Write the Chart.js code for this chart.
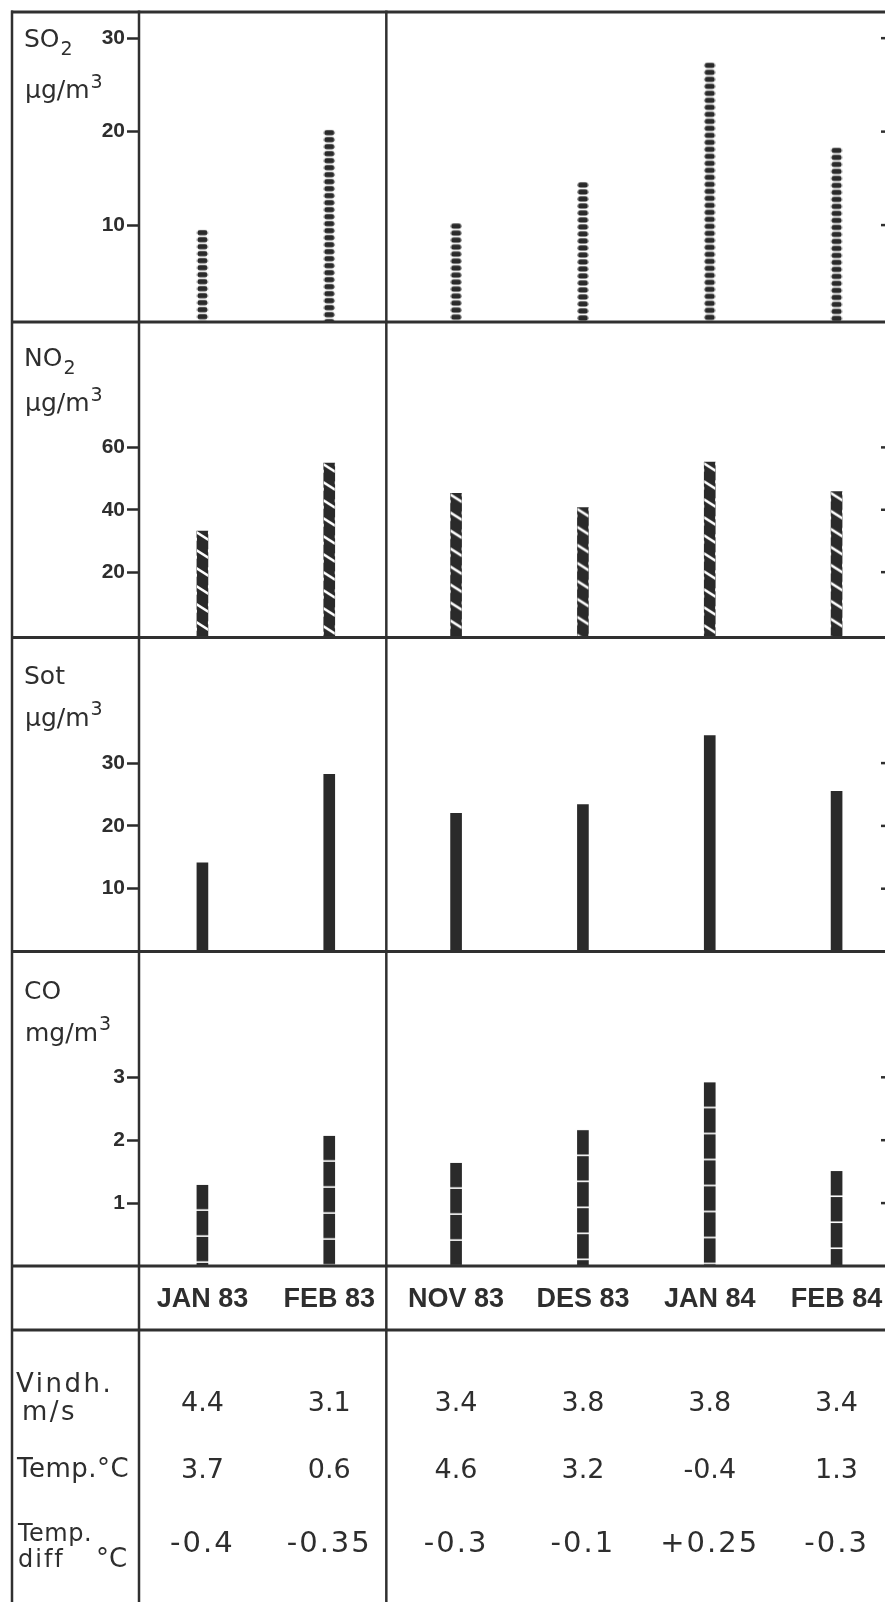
<!DOCTYPE html>
<html>
<head>
<meta charset="utf-8">
<script src="https://cdn.jsdelivr.net/npm/chart.js@4.4.1/dist/chart.umd.min.js"></script>
<style>
html,body{margin:0;padding:0;background:#fff;overflow:hidden;width:885px;height:1602px}
#wrap{position:absolute;left:0;top:0;width:900px;height:1602px}
canvas{display:block}
</style>
</head>
<body>
<div id="wrap"><canvas id="c" width="900" height="1602"></canvas></div>
<script>
// ---------------- data ----------------
const months = ['JAN 83', 'FEB 83', 'NOV 83', 'DES 83', 'JAN 84', 'FEB 84'];
const so2 = [9.5, 20.2, 10.2, 14.6, 27.4, 18.3];     // µg/m3
const no2 = [33.2, 55.0, 45.3, 40.7, 55.3, 45.8];    // µg/m3
const sot = [14.1, 28.2, 22.0, 23.4, 34.4, 25.5];    // µg/m3
const co  = [1.29, 2.07, 1.64, 2.16, 2.92, 1.51];    // mg/m3
const so2Ticks = [10, 20, 30];
const no2Ticks = [20, 40, 60];
const sotTicks = [10, 20, 30];
const coTicks  = [1, 2, 3];
const windSpeed   = [4.4, 3.1, 3.4, 3.8, 3.8, 3.4];
const temperature = [3.7, 0.6, 4.6, 3.2, -0.4, 1.3];
const tempDiff    = [-0.4, -0.35, -0.3, -0.1, 0.25, -0.3];

// ---------------- style ----------------
const INK = '#2a2a2a';
const TXT = '#2e2e2e';
const SANS = '"DejaVu Sans", "Liberation Sans", sans-serif';
const ARIAL = '"Liberation Sans", Arial, sans-serif';
const BAR_W = 11;

function makeTile(w, h, draw) {
  const c = document.createElement('canvas');
  c.width = w; c.height = h;
  draw(c.getContext('2d'), w, h);
  return c;
}
function rr(g, x, y, w, h, r) {
  g.beginPath();
  g.moveTo(x + r, y); g.lineTo(x + w - r, y); g.quadraticCurveTo(x + w, y, x + w, y + r);
  g.lineTo(x + w, y + h - r); g.quadraticCurveTo(x + w, y + h, x + w - r, y + h);
  g.lineTo(x + r, y + h); g.quadraticCurveTo(x, y + h, x, y + h - r);
  g.lineTo(x, y + r); g.quadraticCurveTo(x, y, x + r, y); g.closePath();
}
// dotted (SO2)
const tileSO2 = makeTile(BAR_W, 7.5, (g, w, h) => { g.fillStyle = INK; rr(g, 0.5, 0.3, w - 1, 5.2, 2.3); g.fill(); });
// hatched (NO2)
const tileNO2 = makeTile(BAR_W, 18, (g, w, h) => {
  g.fillStyle = INK; g.fillRect(0, 0, w, h);
  g.fillStyle = '#fff';
  for (const o of [-h, 0, h]) {
    g.beginPath(); g.moveTo(0, o + 0); g.lineTo(w, o + 7); g.lineTo(w, o + 10); g.lineTo(0, o + 3); g.closePath(); g.fill();
  }
});
// solid (Sot)
const tileSot = makeTile(BAR_W, 4, (g, w, h) => { g.fillStyle = INK; g.fillRect(0, 0, w, h); });
// segmented (CO)
const tileCO = makeTile(BAR_W, 26, (g, w, h) => { g.fillStyle = INK; g.fillRect(0, 0, w, h - 1.6); });

function patternFill(tile) {
  return (c) => {
    if (c.type !== 'data') return INK;
    const chart = c.chart, xs = chart.scales.x, ys = chart.scales[c.dataset.yAxisID];
    if (!xs || !ys || !c.parsed) return INK;
    const p = chart.ctx.createPattern(tile, 'repeat');
    const x = xs.getPixelForValue(c.dataIndex) - BAR_W / 2;
    const y = ys.getPixelForValue(c.parsed.y);
    p.setTransform(new DOMMatrix().translate(x, y));
    return p;
  };
}

function yAxis(min, max, ticks, order, stackWeight) {
  return {
    type: 'linear', position: 'left', stack: 'panels', stackWeight: stackWeight, weight: order,
    min: min, max: max,
    afterBuildTicks: (s) => { s.ticks = ticks.map(v => ({ value: v })); },
    afterFit: (s) => { s.width = 127; s.paddingTop = 0; s.paddingBottom = 0; },
    grid: { drawOnChartArea: false, drawTicks: true, tickLength: 12, tickWidth: 2.5, tickColor: INK },
    border: { display: false },
    ticks: { color: TXT, padding: 2, font: { family: ARIAL, size: 21, weight: 'bold', lineHeight: 1 } }
  };
}

const MIN = { so2: -0.37, no2: -0.95, sot: 0, co: 0 };

// ---------------- frame, labels, table ----------------
const panelLabels = [
  { id: 'ySO2', l1: ['SO', '2'], l2: ['µg/m', '3'], y1: 35, y2: 86 },
  { id: 'yNO2', l1: ['NO', '2'], l2: ['µg/m', '3'], y1: 44, y2: 89 },
  { id: 'ySot', l1: ['Sot', ''], l2: ['µg/m', '3'], y1: 46, y2: 88 },
  { id: 'yCO',  l1: ['CO', ''],  l2: ['mg/m', '3'], y1: 47, y2: 89 }
];

function fmt(v) { return v.toFixed(Math.abs(v * 10 - Math.round(v * 10)) > 1e-9 ? 2 : 1); }
function fmtSigned(v) { return (v > 0 ? '+' : '') + fmt(v); }

const sheet = {
  id: 'sheet',
  afterDatasetsDraw(chart) {
    const ctx = chart.ctx, xs = chart.scales.x, ca = chart.chartArea;
    const ids = ['ySO2', 'yNO2', 'ySot', 'yCO'];
    const P = ids.map(id => chart.scales[id]);
    const L = 12, R = chart.width, B = chart.height;
    const monthBottom = xs.top + 64;
    const divX = xs.getPixelForValue(1.45);
    ctx.save();
    ctx.strokeStyle = '#303030';
    ctx.lineCap = 'butt';
    // horizontal rules
    ctx.lineWidth = 3;
    const hs = [P[0].top, P[0].bottom, P[1].bottom, P[2].bottom, P[3].bottom, monthBottom];
    hs.forEach(y => { ctx.beginPath(); ctx.moveTo(L - 1, y); ctx.lineTo(R, y); ctx.stroke(); });
    // vertical rules
    ctx.lineWidth = 2.5;
    [L, ca.left, divX].forEach(x => { ctx.beginPath(); ctx.moveTo(x, P[0].top - 1.5); ctx.lineTo(x, B); ctx.stroke(); });
    // right-edge ticks of the neighbouring axis (cut off)
    ctx.lineWidth = 2.5;
    const tickSets = [so2Ticks, no2Ticks, sotTicks, coTicks];
    P.forEach((s, i) => tickSets[i].forEach(v => {
      const y = s.getPixelForValue(v);
      ctx.beginPath(); ctx.moveTo(881, y); ctx.lineTo(886, y); ctx.stroke();
    }));

    // panel labels
    ctx.fillStyle = TXT;
    ctx.textBaseline = 'alphabetic';
    ctx.textAlign = 'left';
    const drawSup = (parts, x, y, size, sub) => {
      ctx.font = `${size}px ${SANS}`;
      ctx.fillText(parts[0], x, y);
      const w = ctx.measureText(parts[0]).width;
      if (parts[1]) {
        ctx.font = `${Math.round(size * 0.75)}px ${SANS}`;
        ctx.fillText(parts[1], x + w + 1, sub ? y + size * 0.3 : y - size * 0.42);
      }
    };
    panelLabels.forEach(pl => {
      const s = chart.scales[pl.id];
      drawSup(pl.l1, 24, s.top + pl.y1, 25, true);
      drawSup(pl.l2, 25, s.top + pl.y2, 25, false);
    });

    // table row labels
    const T = xs.top;
    ctx.font = `26px ${SANS}`;
    ctx.letterSpacing = '2.5px';
    ctx.fillText('Vindh.', 16, T + 126);
    ctx.fillText('m/s', 22, T + 154);
    ctx.letterSpacing = '0.5px';
    ctx.fillText('Temp.°C', 17, T + 211);
    ctx.font = `24px ${SANS}`;
    ctx.letterSpacing = '0.5px';
    ctx.fillText('Temp.', 18, T + 275);
    ctx.letterSpacing = '2px';
    ctx.fillText('diff', 18, T + 301);
    ctx.letterSpacing = '0px';
    ctx.font = `26px ${SANS}`;
    ctx.fillText('°C', 96, T + 301);

    // table values
    ctx.textAlign = 'center';
    ctx.textBaseline = 'middle';
    for (let i = 0; i < months.length; i++) {
      const x = xs.getPixelForValue(i);
      ctx.font = `27px ${SANS}`;
      ctx.letterSpacing = '0px';
      ctx.fillText(fmt(windSpeed[i]), x, T + 138);
      ctx.fillText(fmt(temperature[i]), x, T + 205);
      ctx.font = `29px ${SANS}`;
      ctx.letterSpacing = '2px';
      ctx.fillText(fmtSigned(tempDiff[i]), x, T + 278);
    }
    ctx.restore();
  }
};

new Chart(document.getElementById('c'), {
  type: 'bar',
  data: {
    labels: months,
    datasets: [
      { label: 'SO2', data: so2, yAxisID: 'ySO2', base: MIN.so2, backgroundColor: patternFill(tileSO2), grouped: false, barThickness: BAR_W, borderWidth: 0 },
      { label: 'NO2', data: no2, yAxisID: 'yNO2', base: MIN.no2, backgroundColor: patternFill(tileNO2), grouped: false, barThickness: BAR_W, borderWidth: 0 },
      { label: 'Sot', data: sot, yAxisID: 'ySot', backgroundColor: patternFill(tileSot), grouped: false, barThickness: BAR_W, borderWidth: 0 },
      { label: 'CO',  data: co,  yAxisID: 'yCO',  backgroundColor: patternFill(tileCO),  grouped: false, barThickness: BAR_W, borderWidth: 0 }
    ]
  },
  options: {
    responsive: false,
    animation: false,
    devicePixelRatio: 1,
    layout: { padding: { left: 12, top: 12, right: 0, bottom: 0 } },
    plugins: { legend: { display: false }, tooltip: { enabled: false } },
    scales: {
      x: {
        type: 'category', position: 'bottom', offset: true,
        grid: { display: false, drawTicks: false }, border: { display: false },
        ticks: { color: TXT, padding: 20, maxRotation: 0, autoSkip: false,
                 font: { family: ARIAL, size: 27, weight: 'bold', lineHeight: 1 } },
        afterFit: (s) => { s.height = 336; s.paddingLeft = 0; s.paddingRight = 0; }
      },
      ySO2: yAxis(MIN.so2, 32.8, so2Ticks, 4, 310),
      yNO2: yAxis(MIN.no2, 100.2, no2Ticks, 3, 315.5),
      ySot: yAxis(MIN.sot, 50, sotTicks, 2, 314),
      yCO:  yAxis(MIN.co, 5, coTicks, 1, 314.5)
    }
  },
  plugins: [sheet]
});
</script>
</body>
</html>
